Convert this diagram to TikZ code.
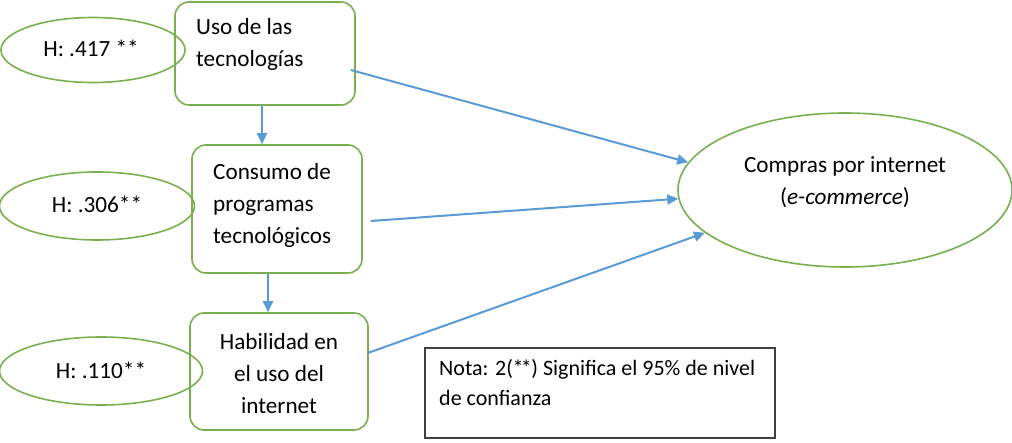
\documentclass[tikz,border=0pt]{standalone}
\usepackage{fontspec}
\setmainfont{Carlito}
\usetikzlibrary{arrows.meta,shapes.geometric,calc}
\definecolor{grn}{HTML}{78B04F}
\definecolor{blu}{HTML}{5B9BD5}
\definecolor{gry}{HTML}{404040}
\newcommand\mystars{\kern-0.5pt*\kern-2.5pt*\kern-0.5pt}
\tikzset{
  box/.style={draw=grn, line width=1.6pt, rounded corners=14pt, fill=white, inner sep=0pt},
  oval/.style={ellipse, draw=grn, line width=1.6pt, inner sep=0pt},
  note/.style={draw=gry, line width=1.5pt, inner sep=0pt},
  txt/.style={inner sep=0pt, font=\fontsize{23.2}{32}\selectfont},
  ntxt/.style={inner sep=0pt, font=\fontsize{22}{30}\selectfont},
  arr/.style={draw=blu, line width=2pt, -{Triangle[width=10pt,length=11pt]}}
}
\begin{document}
\begin{tikzpicture}[x=1pt,y=-1pt]
\useasboundingbox (0,0) rectangle (1012,443);
% boxes
\node[box, minimum width=180pt, minimum height=103pt] (b1) at (265,53.5) {};
\node[box, minimum width=170pt, minimum height=128pt] (b2) at (277,209) {};
\node[box, minimum width=178pt, minimum height=117pt] (b3) at (279,371.5) {};
% box texts
\node[txt, anchor=west, align=left] (t1) at (196,44) {Uso de las\\tecnologías};
\node[txt, anchor=west, align=left] (t2) at (213,205) {Consumo de\\programas\\tecnológicos};
\node[txt, align=center] (t3) at (279,374) {Habilidad en\\el uso del\\internet};
% ellipses
\node[oval, minimum width=184pt, minimum height=65pt] (e1) at (93,50) {};
\node[oval, minimum width=195pt, minimum height=68pt] (e2) at (97,206) {};
\node[oval, minimum width=203pt, minimum height=68pt] (e3) at (101,371) {};
\node[txt] (h1) at (91,48) {H: .417 **};
\node[txt] (h2) at (97,204) {H: .306**};
\node[txt] (h3) at (101,370) {H: .110**};
% target
\node[oval, minimum width=334pt, minimum height=154pt] (ce) at (845,190) {};
\node[txt, align=center] (ct) at (845,182) {Compras por internet\\(\textit{e-commerce})};
% note
\node[note, minimum width=350pt, minimum height=90pt] (nb) at (600,393) {};
\node[ntxt, anchor=west, align=left] (nt) at (439,383) {Nota: 2(\mystars) Significa el 95\% de nivel\\de confianza};
% vertical arrows
\coordinate (a1) at ($(b1.south)+(-3,0)$);
\draw[arr] (a1) -- (a1 |- b2.north);
\coordinate (a2) at ($(b2.south)+(-9,0)$);
\draw[arr] (a2) -- (a2 |- b3.north);
% arrows to target
\draw[arr] ($(b1.east)+(-5,16.5)$) -- (ce.170);
\draw[arr] ($(b2.east)+(8,12)$) -- (ce.183);
\draw[arr] ($(b3.east)+(-1,-18.5)$) -- (ce.197);
\end{tikzpicture}
\end{document}
